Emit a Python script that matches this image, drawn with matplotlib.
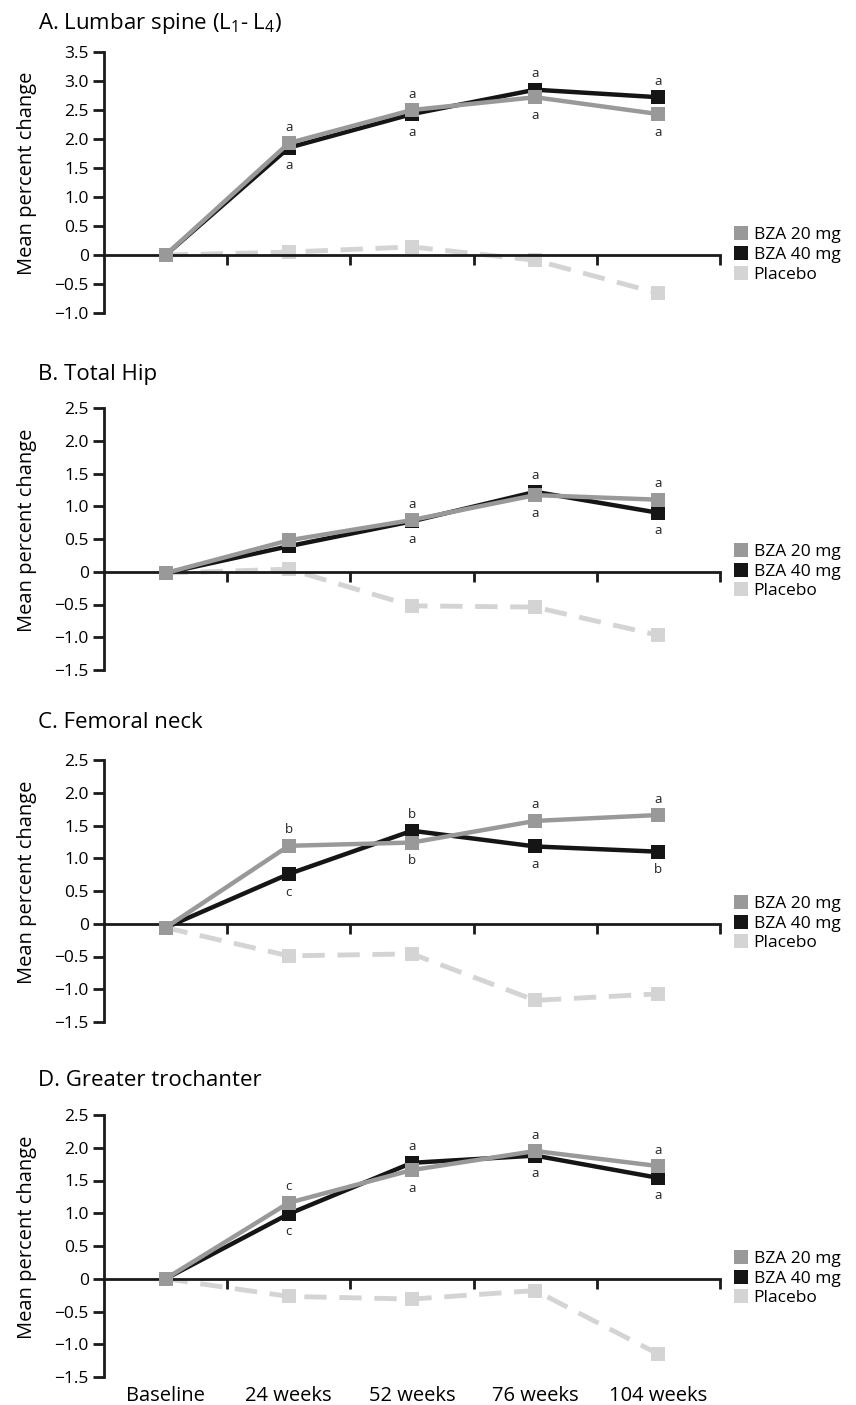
import numpy as np
import matplotlib.pyplot as plt
import matplotlib.transforms as mtransforms
from matplotlib.lines import Line2D

plt.rcParams['font.family'] = ['Open Sans', 'DejaVu Sans']
plt.rcParams['mathtext.default'] = 'regular'

timepoints = ['Baseline', '24 weeks', '52 weeks', '76 weeks', '104 weeks']
series_names = ['BZA 20 mg', 'BZA 40 mg', 'Placebo']
titles = ['A. Lumbar spine (L$_1$- L$_4$)', 'B. Total Hip',
          'C. Femoral neck', 'D. Greater trochanter']

# mean percent change per panel (A, B, C, D)
bza20 = [[0.00, 1.93, 2.50, 2.72, 2.43],
         [-0.02, 0.48, 0.79, 1.17, 1.10],
         [-0.06, 1.19, 1.24, 1.57, 1.66],
         [0.00, 1.16, 1.66, 1.95, 1.72]]
bza40 = [[0.00, 1.85, 2.43, 2.85, 2.72],
         [-0.02, 0.39, 0.77, 1.22, 0.90],
         [-0.06, 0.76, 1.42, 1.18, 1.10],
         [0.00, 0.99, 1.77, 1.88, 1.54]]
placebo = [[0.00, 0.05, 0.14, -0.09, -0.66],
           [-0.02, 0.04, -0.52, -0.54, -0.97],
           [-0.06, -0.49, -0.46, -1.17, -1.07],
           [0.00, -0.27, -0.31, -0.18, -1.15]]

# significance letters above the upper point / below the lower point
upper_letters = [['', 'a', 'a', 'a', 'a'],
                 ['', '', 'a', 'a', 'a'],
                 ['', 'b', 'b', 'a', 'a'],
                 ['', 'c', 'a', 'a', 'a']]
lower_letters = [['', 'a', 'a', 'a', 'a'],
                 ['', '', 'a', 'a', 'a'],
                 ['', 'c', 'b', 'a', 'b'],
                 ['', 'c', 'a', 'a', 'a']]

y_ranges = [(-1.0, 3.5), (-1.5, 2.5), (-1.5, 2.5), (-1.5, 2.5)]

c20, c40, cpl = '#999999', '#151515', '#d4d4d4'

W, H = 856, 1405
fig = plt.figure(figsize=(W / 100, H / 100), dpi=100)

panel_px = [(52, 313), (408, 670), (760, 1022), (1115, 1377)]
title_px = [23, 375, 722, 1080]
left_px, right_px = 104, 720

x = np.arange(len(timepoints)) + 0.5

for i in range(4):
    top, bot = panel_px[i]
    ax = fig.add_axes([left_px / W, 1 - bot / H, (right_px - left_px) / W, (bot - top) / H])
    lo, hi = y_ranges[i]

    ax.plot(x, placebo[i], color=cpl, lw=3.5, dashes=(4.6, 2.6), marker='s',
            ms=10, mew=0, clip_on=False, zorder=2)
    ax.plot(x, bza40[i], color=c40, lw=3.2, marker='s', ms=10, mew=0,
            clip_on=False, zorder=3)
    ax.plot(x, bza20[i], color=c20, lw=3.2, marker='s', ms=10, mew=0,
            clip_on=False, zorder=4)

    for j in range(len(timepoints)):
        up = max(bza20[i][j], bza40[i][j])
        dn = min(bza20[i][j], bza40[i][j])
        if upper_letters[i][j]:
            ax.annotate(upper_letters[i][j], (x[j], up), xytext=(0, 11.5),
                        textcoords='offset points', ha='center', va='center',
                        fontsize=9.5, color='#222222')
        if lower_letters[i][j]:
            ax.annotate(lower_letters[i][j], (x[j], dn), xytext=(0, -13),
                        textcoords='offset points', ha='center', va='center',
                        fontsize=9.5, color='#222222')

    ax.set_xlim(0, 5)
    ax.set_ylim(lo, hi)
    ax.spines['top'].set_visible(False)
    ax.spines['right'].set_visible(False)
    ax.spines['bottom'].set_position(('data', 0))
    for s in ['left', 'bottom']:
        ax.spines[s].set_linewidth(2)
        ax.spines[s].set_color('#1a1a1a')

    yt = np.arange(lo, hi + 0.01, 0.5)
    ylabels = ['0' if abs(v) < 1e-9 else f'{v:.1f}'.replace('-', '\u2212') for v in yt]
    ax.set_yticks(yt)
    ax.set_yticklabels(ylabels, fontsize=12.5)
    ax.set_xticks([1, 2, 3, 4, 5])
    ax.set_xticklabels([])
    ax.tick_params(axis='y', direction='out', length=8, width=2, color='#1a1a1a', pad=3)
    ax.tick_params(axis='x', direction='out', length=7, width=2, color='#1a1a1a')
    ax.set_ylabel('Mean percent change', fontsize=14.5)
    ax.yaxis.set_label_coords(-0.108, 0.535)

    handles = [Line2D([], [], ls='', marker='s', ms=9.5, mew=0, color=c)
               for c in (c20, c40, cpl)]
    trans = mtransforms.blended_transform_factory(ax.transAxes, ax.transData)
    ax.legend(handles, series_names, loc='center left', bbox_to_anchor=(1.022, 0),
              bbox_transform=trans, frameon=False, fontsize=12.5, handlelength=0.9,
              handletextpad=0.25, labelspacing=0.2, borderpad=0, borderaxespad=0)

    fig.text(38 / W, 1 - title_px[i] / H, titles[i], fontsize=16, ha='left', va='center')

    if i == 3:
        xtrans = mtransforms.blended_transform_factory(ax.transData, ax.transAxes)
        for j, lab in enumerate(timepoints):
            ax.text(x[j], -0.035, lab, transform=xtrans, ha='center', va='top', fontsize=14.5)

fig.savefig('out.png', dpi=100)
